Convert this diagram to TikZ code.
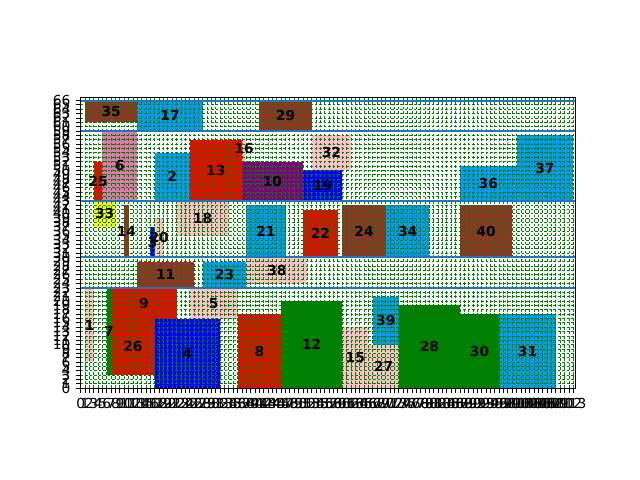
\documentclass[tikz,border=0pt]{standalone}
\usepackage{fontspec}
\setmainfont{DejaVu Sans}
\definecolor{brownc}{RGB}{165,42,42}
\definecolor{azure}{RGB}{6,154,243}
\definecolor{hotp}{RGB}{227,119,175}
\definecolor{pinkc}{RGB}{255,192,203}
\definecolor{redc}{RGB}{255,0,0}
\definecolor{purp}{RGB}{128,0,128}
\definecolor{bluec}{RGB}{0,0,255}
\definecolor{greenc}{RGB}{0,128,0}
\definecolor{yell}{RGB}{255,255,0}
\definecolor{lvl}{RGB}{31,119,180}
\begin{document}
\begin{tikzpicture}[
  gridl/.style={greenc,line width=0.6pt,dash pattern=on 2pt off 1.2pt},
  level/.style={lvl,line width=1.4pt},
  lab/.style={font=\fontsize{9.8}{11}\selectfont\bfseries,inner sep=0pt},
  ticklab/.style={font=\fontsize{9.8}{11}\selectfont,inner sep=0pt},
  x=0.109cm,y=0.109cm
]
  \useasboundingbox (-18.5,-21.0) rectangle (128.3,89.06);
  \foreach \n/\xa/\ya/\xb/\yb/\c in {35/1/61/13/66/brownc,17/13/59/28/66/azure,29/41/59/53/66/brownc,
    6/5/43/13/59/hotp,25/3/43/5/52/redc,2/17/43/25/54/azure,13/25/43/37/57/redc,16/37/52/38/57/pinkc,
    10/37/43/51/52/purp,19/51/43/60/50/bluec,32/53/50/62/58/pinkc,36/87/43/100/51/azure,37/100/43/113/58/azure,
    33/3/37/8/43/yell,14/10/30/11/42/brownc,3/16/30/17/37/bluec,20/17/30/19/39/pinkc,18/22/35/34/43/pinkc,
    21/38/30/47/42/azure,22/51/30/59/41/redc,24/60/30/70/42/brownc,34/70/30/80/42/azure,40/87/30/99/42/brownc,
    11/13/23/26/29/brownc,23/28/23/38/29/azure,38/38/24/52/30/pinkc,
    1/1/6/3/23/pinkc,7/6/3/7/23/greenc,9/7/16/22/23/redc,26/7/3/17/16/redc,4/17/0/32/16/bluec,
    5/25/16/36/23/pinkc,8/36/0/46/17/redc,12/46/0/60/20/greenc,15/60/0/66/14/pinkc,27/66/0/73/10/pinkc,
    39/67/10/73/21/azure,28/73/0/87/19/greenc,30/87/0/96/17/greenc,31/96/0/109/17/azure}
    \fill[\c] (\xa,\ya) rectangle (\xb,\yb);
  \foreach \i in {0,...,113}
    \draw[gridl] (\i,0) -- (\i,66.8);
  \foreach \j in {0,...,66}
    \draw[gridl] (0,\j) -- (113.4,\j);
  \foreach \l in {23,30,43,59,66}
    \draw[level] (0,\l) -- (113.4,\l);
  \foreach \n/\xa/\ya/\xb/\yb in {35/1/61/13/66,17/13/59/28/66,29/41/59/53/66,6/5/43/13/59,25/3/43/5/52,
    2/17/43/25/54,13/25/43/37/57,16/37/53/38/57,10/37/43/51/52,19/51/43/60/50,32/53/50/62/58,
    36/87/43/100/51,37/100/43/113/58,33/3/37/8/43,14/10/30/11/42,3/16/30/17/37,20/17/30/19/39,
    18/22/35/34/43,21/38/30/47/42,22/51/30/59/41,24/60/30/70/42,34/70/30/80/42,40/87/30/99/42,
    11/13/23/26/29,23/28/23/38/29,38/38/24/52/30,1/1/6/3/23,7/6/3/7/23,9/7/16/22/23,26/7/3/17/16,
    4/17/0/32/16,5/25/16/36/23,8/36/0/46/17,12/46/0/60/20,15/60/0/66/14,27/66/0/73/10,
    39/67/10/73/21,28/73/0/87/19,30/87/0/96/17,31/96/0/109/17}
    \node[lab] (r\n) at ({(\xa+\xb)/2},{(\ya+\yb)/2}) {\n};
  \draw[line width=0.6pt] (0,0) rectangle (113.4,66.8);
  \foreach \i in {0,...,113}
    \draw[line width=0.6pt] (\i,0) -- ++(0,-3.5pt) node[ticklab,below=3.5pt,anchor=north] (xt\i) {\i};
  \foreach \j in {0,...,66}
    \draw[line width=0.6pt] (0,\j) -- ++(-3.5pt,0) node[ticklab,left=3.5pt,anchor=east] (yt\j) {\j};
\end{tikzpicture}
\end{document}
